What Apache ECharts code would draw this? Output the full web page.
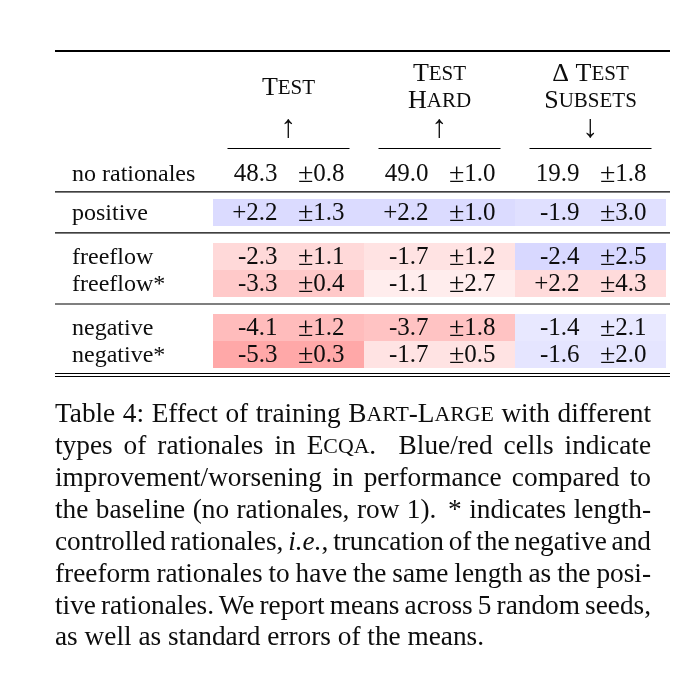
<!DOCTYPE html>
<html><head><meta charset="utf-8">
<script src="https://cdn.jsdelivr.net/npm/echarts@6/dist/echarts.min.js"></script>
<style>html,body{margin:0;padding:0;background:#fff}#c{width:676px;height:680px}</style>
</head><body><div id="c"></div>
<script>
// ---------- data ----------
const columns = ['Test', 'Test Hard', 'Δ Test Subsets'];
const columnArrows = ['↑', '↑', '↓'];
const columnDirection = [1, 1, -1]; // higher is better, higher, lower is better
const rowLabels = ['no rationales', 'positive', 'freeflow', 'freeflow*', 'negative', 'negative*'];
const rowGroups = [[0], [1], [2, 3], [4, 5]];
const baselineMean = [48.3, 49.0, 19.9];
const baselineStd = [0.8, 1.0, 1.8];
const testMean = [2.2, -2.3, -3.3, -4.1, -5.3];
const testStd = [1.3, 1.1, 0.4, 1.2, 0.3];
const hardMean = [2.2, -1.7, -1.1, -3.7, -1.7];
const hardStd = [1.0, 1.2, 2.7, 1.8, 0.5];
const subsetMean = [-1.9, -2.4, 2.2, -1.4, -1.6];
const subsetStd = [3.0, 2.5, 4.3, 2.1, 2.0];
const captionLines = [
  'Table 4: Effect of training B<ART>-L<ARGE> with different',
  'types of rationales in E<CQA>. Blue/red cells indicate',
  'improvement/worsening in performance compared to',
  'the baseline (no rationales, row 1). * indicates length-',
  'controlled rationales, [i.e.], truncation of the negative and',
  'freeform rationales to have the same length as the posi-',
  'tive rationales. We report means across 5 random seeds,',
  'as well as standard errors of the means.'
];

// ---------- layout / style ----------
const FONT = '"Liberation Serif", "Times New Roman", serif';
const FS = 24, VFS = 25, PMFS = 28, HFS = 26, SC = 21, CAP = 27.3, CAP_SC = 21.8;
const INK = '#0d0d0d';
const GAPS = [0.45, 0.63, 0.63];
const rowTop = []; let pos = 0; const groupEnds = [];
rowGroups.forEach((g, gi) => { if (gi > 0) pos += GAPS[gi - 1]; g.forEach(r => { rowTop[r] = pos; pos += 1; }); groupEnds.push(pos); });
const TOTAL = pos;

const means = [testMean, hardMean, subsetMean];
const stds = [testStd, hardStd, subsetStd];
const cellData = [];
for (let c = 0; c < columns.length; c++) {
  cellData.push([c, rowTop[0], baselineMean[c], baselineStd[c], 0, 1]);
  for (let r = 1; r < rowLabels.length; r++) {
    const m = means[c][r - 1];
    cellData.push([c, rowTop[r], m, stds[c][r - 1], m * columnDirection[c], 0]);
  }
}
const labelData = rowLabels.map((l, r) => [0, rowTop[r], r]);

const valRich = {
  v: { fontSize: VFS, fontFamily: FONT, fill: INK },
  p: { fontSize: PMFS, fontFamily: FONT, fill: INK }
};
function renderCell(params, api) {
  const c = api.value(0), top = api.value(1), mean = api.value(2), sd = api.value(3), isBase = api.value(5);
  const p = api.coord([c, top]);
  const w = Math.abs(api.size([1, 0])[0]);
  const h = Math.abs(api.size([0, 1])[1]);
  const cx = p[0], cy = p[1] + h / 2 + 1;
  const children = [];
  if (!isBase) children.push({ type: 'rect', shape: { x: cx - w / 2, y: p[1], width: w, height: h }, style: { fill: api.visual('color') } });
  const vt = isBase ? mean.toFixed(1) : (mean > 0 ? '+' : '') + mean.toFixed(1);
  children.push({ type: 'text', style: { x: cx - 11, y: cy, text: vt, align: 'right', verticalAlign: 'middle', fontSize: VFS, fontFamily: FONT, fill: INK } });
  children.push({ type: 'text', style: { x: cx + 56, y: cy, text: '{p|±}{v|' + sd.toFixed(1) + '}', rich: valRich, align: 'right', verticalAlign: 'middle', fill: INK } });
  return { type: 'group', children };
}
function renderLabel(params, api) {
  const top = api.value(1), r = api.value(2);
  const p = api.coord([0, top]);
  const h = Math.abs(api.size([0, 1])[1]);
  return { type: 'text', style: { x: 72, y: p[1] + h / 2 + 1, text: rowLabels[r], align: 'left', verticalAlign: 'middle', fontSize: FS, fontFamily: FONT, fill: INK } };
}

const chart = echarts.init(document.getElementById('c'), null, { renderer: 'canvas' });
const unit = 27;
const gridTop = 199 - rowTop[1] * unit;
chart.setOption({
  backgroundColor: '#ffffff',
  animation: false,
  grid: { left: 213, right: 10, top: gridTop, height: TOTAL * unit },
  xAxis: { type: 'category', data: columns, show: false },
  yAxis: { type: 'value', min: 0, max: TOTAL, inverse: true, show: false },
  visualMap: { show: false, type: 'continuous', seriesIndex: 0, dimension: 4, min: -6, max: 6,
    inRange: { color: ['rgb(255,157,157)', '#ffffff', 'rgb(157,157,255)'] } },
  series: [
    { type: 'custom', data: cellData, renderItem: renderCell, encode: { x: 0, y: 1 } },
    { type: 'custom', data: labelData, renderItem: renderLabel, encode: { x: 0, y: 1 } }
  ]
});

// ---------- decorations: rules, header, caption ----------
const yPix = v => chart.convertToPixel({ gridIndex: 0 }, [0, v])[1];
const xPix = c => chart.convertToPixel({ gridIndex: 0 }, [c, 0])[0];
const RL = 55, RR = 670;
const g = [];
function hline(y, x1, x2, lw) { g.push({ type: 'line', shape: { x1, y1: y, x2, y2: y }, style: { stroke: '#000', lineWidth: lw } }); }
hline(51, RL, RR, 1.8);
const ruleFrac = [0.42, 0.41, 0.41];
for (let i = 0; i < groupEnds.length - 1; i++) hline(yPix(groupEnds[i] + GAPS[i] * ruleFrac[i]), RL, RR, 1.2);
hline(yPix(TOTAL) + 5.5, RL, RR, 1.1);
hline(yPix(TOTAL) + 8.5, RL, RR, 1.1);

const rich = { n: { fontSize: HFS, fontFamily: FONT, fill: INK }, s: { fontSize: SC, fontFamily: FONT, fill: INK } };
function scText(word) { return '{n|' + word[0] + '}{s|' + word.slice(1).toUpperCase() + '}'; }
const headerLines = [['Test'], ['Test', 'Hard'], ['Δ Test', 'Subsets']];
headerLines.forEach((lines, c) => {
  const cx = xPix(c);
  const ys = lines.length === 1 ? [88] : [74, 101];
  lines.forEach((ln, i) => {
    const txt = ln.split(' ').map(w => w === 'Δ' ? '{n|Δ}' : scText(w)).join('{n| }');
    g.push({ type: 'text', style: { x: cx, y: ys[i], text: txt, rich, align: 'center', verticalAlign: 'middle', fill: INK } });
  });
  g.push({ type: 'text', style: { x: cx, y: 129, text: columnArrows[c], align: 'center', verticalAlign: 'middle', fontSize: 32, fontFamily: FONT, fill: INK } });
  hline(148.5, cx - 61, cx + 61, 1.1);
});

// caption, justified
const cv = document.createElement('canvas').getContext('2d');
const capStyles = {
  n: { fontSize: CAP, fontFamily: FONT, fill: INK },
  s: { fontSize: CAP_SC, fontFamily: FONT, fill: INK },
  i: { fontSize: CAP, fontFamily: FONT, fontStyle: 'italic', fill: INK }
};
function cssFont(st) { return (st.fontStyle || 'normal') + ' ' + st.fontSize + 'px ' + FONT; }
function parseWord(w) {
  const segs = []; const re = /<([^>]*)>|\[([^\]]*)\]|([^<\[]+)/g; let m;
  while ((m = re.exec(w))) { if (m[1] !== undefined) segs.push(['s', m[1]]); else if (m[2] !== undefined) segs.push(['i', m[2]]); else segs.push(['n', m[3]]); }
  return segs;
}
function segWidth(seg) { cv.font = cssFont(capStyles[seg[0]]); return cv.measureText(seg[1]).width; }
const CX0 = 55, CX1 = 651, CY0 = 415, CLH = 31.9;
captionLines.forEach((line, li) => {
  const words = line.split(' ').map(parseWord);
  const widths = words.map(s => s.reduce((a, seg) => a + segWidth(seg), 0));
  const sp = CAP * 0.25;
  const gaps = [];
  for (let i = 0; i < words.length - 1; i++) {
    const lastSeg = words[i][words[i].length - 1];
    const sentence = lastSeg[0] !== 'i' && /\.\)?$|\)\.$/.test(lastSeg[1]);
    gaps.push(sentence ? { n: sp * 1.45, s: 3 } : { n: sp, s: 1 });
  }
  const isLast = li === captionLines.length - 1;
  const total = widths.reduce((a, b) => a + b, 0) + gaps.reduce((a, b) => a + b.n, 0);
  const stretch = gaps.reduce((a, b) => a + b.s, 0);
  const k = isLast || !stretch ? 0 : (CX1 - CX0 - total) / stretch;
  let x = CX0;
  const y = CY0 + li * CLH;
  words.forEach((segs, i) => {
    const txt = segs.map(s => '{' + s[0] + '|' + s[1] + '}').join('');
    g.push({ type: 'text', style: { x, y, text: txt, rich: capStyles, align: 'left', verticalAlign: 'middle', fill: INK } });
    x += widths[i];
    if (i < gaps.length) x += gaps[i].n + gaps[i].s * k;
  });
});
chart.setOption({ graphic: g });
</script></body></html>
